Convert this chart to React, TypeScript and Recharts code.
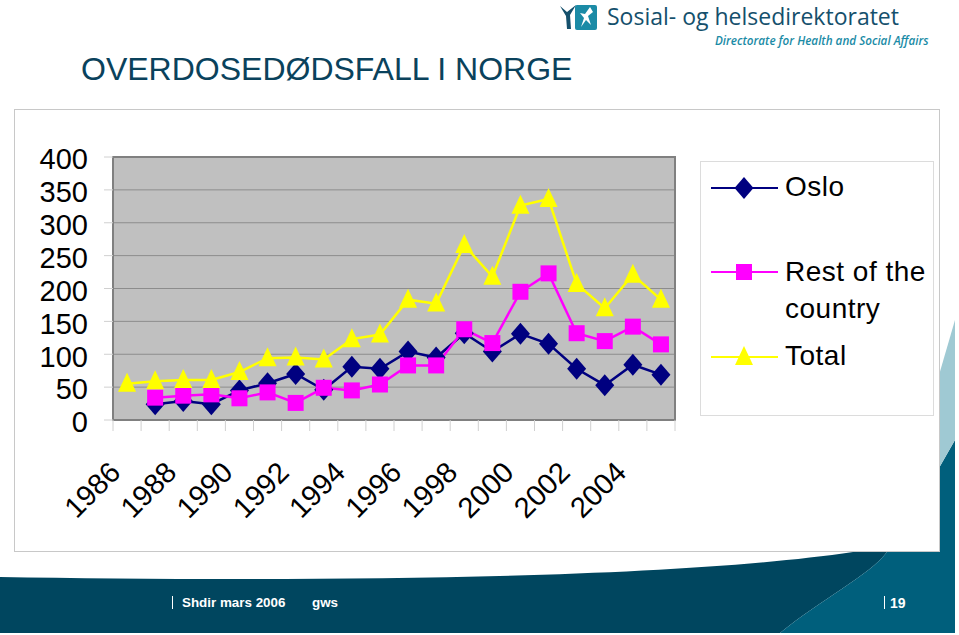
import { LineChart, Line, XAxis, YAxis, CartesianGrid, Legend, ReferenceArea } from 'recharts';

const years = ['1986', '1987', '1988', '1989', '1990', '1991', '1992', '1993', '1994', '1995', '1996', '1997', '1998', '1999', '2000', '2001', '2002', '2003', '2004', '2005'];
const oslo = [null, 24, 29, 24, 45, 56, 70, 46, 81, 78, 104, 95, 132, 104, 131, 116, 78, 53, 84, 69];
const rest = [null, 34, 37, 39, 33, 42, 26, 49, 45, 54, 83, 83, 138, 117, 195, 223, 132, 120, 142, 115];
const total = [55, 59, 61, 61, 73, 94, 95, 92, 123, 130, 183, 177, 266, 218, 326, 336, 207, 170, 221, 183];
const yTicks = [0, 50, 100, 150, 200, 250, 300, 350, 400];

const chartData = years.map((year, i) => ({ year, oslo: oslo[i], rest: rest[i], total: total[i] }));

const font = '"Liberation Sans", Arial, sans-serif';
const colors = { oslo: '#000080', rest: '#ff00ff', total: '#ffff00' };
const bandWidth = 28.1;

const Diamond = ({ cx, cy, fill }: any) =>
  cx == null || cy == null ? null : (
    <path d={`M${cx} ${cy - 11}L${cx + 9.5} ${cy}L${cx} ${cy + 11}L${cx - 9.5} ${cy}Z`} fill={fill} />
  );

const Square = ({ cx, cy, fill }: any) =>
  cx == null || cy == null ? null : <rect x={cx - 8} y={cy - 8} width={16} height={16} fill={fill} />;

const Triangle = ({ cx, cy, fill }: any) =>
  cx == null || cy == null ? null : (
    <path d={`M${cx} ${cy - 11}L${cx + 9} ${cy + 8}L${cx - 9} ${cy + 8}Z`} fill={fill} />
  );

// tick marks sit between the years, labels only on every second year
const YearTick = ({ x, y, payload, index }: any) => (
  <g>
    <line x1={x - bandWidth / 2} x2={x - bandWidth / 2} y1={y - 6} y2={y + 5} stroke="#d0d0d0" />
    {index === years.length - 1 && (
      <line x1={x + bandWidth / 2} x2={x + bandWidth / 2} y1={y - 6} y2={y + 5} stroke="#d0d0d0" />
    )}
    {index % 2 === 0 && (
      <text
        x={x - 5}
        y={y + 48}
        textAnchor="end"
        fontSize={29}
        fontFamily={font}
        fill="#000"
        transform={`rotate(-45 ${x - 5} ${y + 48})`}
      >
        {payload.value}
      </text>
    )}
  </g>
);

const LegendLine = ({ top, color, children }: any) => (
  <svg width={70} height={30} style={{ position: 'absolute', left: 9, top }}>
    <line x1={1} x2={68} y1={15} y2={15} stroke={color} strokeWidth={2} />
    {children}
  </svg>
);

const LegendBox = () => (
  <div style={{ position: 'relative', width: 232, height: 253, background: '#fff', border: '1px solid #dcdcdc', fontFamily: font, fontSize: 28, color: '#000', letterSpacing: 0.5, textAlign: 'left' }}>
    <LegendLine top={11} color={colors.oslo}>
      <Diamond cx={34} cy={15} fill={colors.oslo} />
    </LegendLine>
    <div style={{ position: 'absolute', left: 84, top: 9 }}>Oslo</div>
    <LegendLine top={95} color={colors.rest}>
      <Square cx={34} cy={15} fill={colors.rest} />
    </LegendLine>
    <div style={{ position: 'absolute', left: 84, top: 91, width: 146, lineHeight: '37px' }}>Rest of the country</div>
    <LegendLine top={180} color={colors.total}>
      <Triangle cx={34} cy={15} fill={colors.total} />
    </LegendLine>
    <div style={{ position: 'absolute', left: 84, top: 178 }}>Total</div>
  </div>
);

const Backdrop = () => (
  <svg width={959} height={635} style={{ position: 'absolute', left: 0, top: 0 }}>
    <path d="M0 577C250 581 650 582 853 552L887 552C870 575 820 600 780 633L0 633Z" fill="#00465f" />
    <path d="M887 552L939 552L939 468L955 440L955 633L780 633C820 600 870 575 887 552Z" fill="#005f7c" />
    <path d="M939 375L955 320L955 440L939 468Z" fill="#9fc9d3" />
    <rect x={14.5} y={109.5} width={925} height={442} fill="#fff" stroke="#c8c8c8" />
    <text x={81} y={80} fontFamily={font} fontSize={32} fill="#0a425c">OVERDOSEDØDSFALL I NORGE</text>
    <rect x={575} y={5} width={22} height={25} rx={2} fill="#1b8ba6" />
    <path d="M590 7L585 14L580 13L584 18L581 27L586 20L591 25L588 16L593 12Z" fill="#fff" />
    <path d="M560 6L567 12L576 5L570 15L571 29L567 29L566 16Z" fill="#15506c" />
    <text x={607} y={25} fontFamily={'"Open Sans", sans-serif'} fontSize={23} fill="#15506c">Sosial- og helsedirektoratet</text>
    <text x={715} y={45} fontFamily={'"Open Sans", sans-serif'} fontSize={11.7} fontStyle="italic" fontWeight={600} fill="#1b8ba6">Directorate for Health and Social Affairs</text>
    <g fontFamily={font} fontWeight="bold" fill="#fff">
      <line x1={172.5} x2={172.5} y1={596} y2={609} stroke="#fff" />
      <text x={182} y={607} fontSize={13.4}>Shdir mars 2006</text>
      <text x={312} y={607} fontSize={13.4}>gws</text>
      <line x1={884.5} x2={884.5} y1={596} y2={609} stroke="#fff" />
      <text x={890} y={608} fontSize={14}>19</text>
    </g>
  </svg>
);

export default function App() {
  return (
    <div style={{ position: 'absolute', left: 0, top: 0, width: 959, height: 635, overflow: 'hidden', background: '#fff' }}>
      <Backdrop />
      <div style={{ position: 'absolute', left: 0, top: 0 }}>
        <LineChart width={959} height={635} data={chartData} margin={{ top: 157, right: 284, bottom: 0, left: 23 }}>
          <CartesianGrid horizontal vertical={false} fill="#c0c0c0" stroke="#8c8c8c" />
          <ReferenceArea y1={0} y2={400} fill="none" stroke="#808080" strokeWidth={2} />
          <XAxis dataKey="year" scale="band" interval={0} height={215} axisLine={false} tickLine={false} tick={<YearTick />} tickMargin={0} />
          <YAxis
            domain={[0, 400]}
            ticks={yTicks}
            interval={0}
            width={90}
            axisLine={false}
            tickSize={9}
            tickMargin={16}
            tickLine={{ stroke: '#d0d0d0' }}
            tick={{ fontSize: 29, fontFamily: font, fill: '#000', dy: 2 }}
          />
          <Legend layout="vertical" align="center" verticalAlign="middle" content={<LegendBox />} wrapperStyle={{ left: 700, top: 161, width: 234, height: 255 }} />
          <Line dataKey="oslo" name="Oslo" stroke={colors.oslo} strokeWidth={2.5} dot={<Diamond />} fill={colors.oslo} isAnimationActive={false} />
          <Line dataKey="rest" name="Rest of the country" stroke={colors.rest} strokeWidth={2.5} dot={<Square />} fill={colors.rest} isAnimationActive={false} />
          <Line dataKey="total" name="Total" stroke={colors.total} strokeWidth={2.5} dot={<Triangle />} fill={colors.total} isAnimationActive={false} />
        </LineChart>
      </div>
    </div>
  );
}
